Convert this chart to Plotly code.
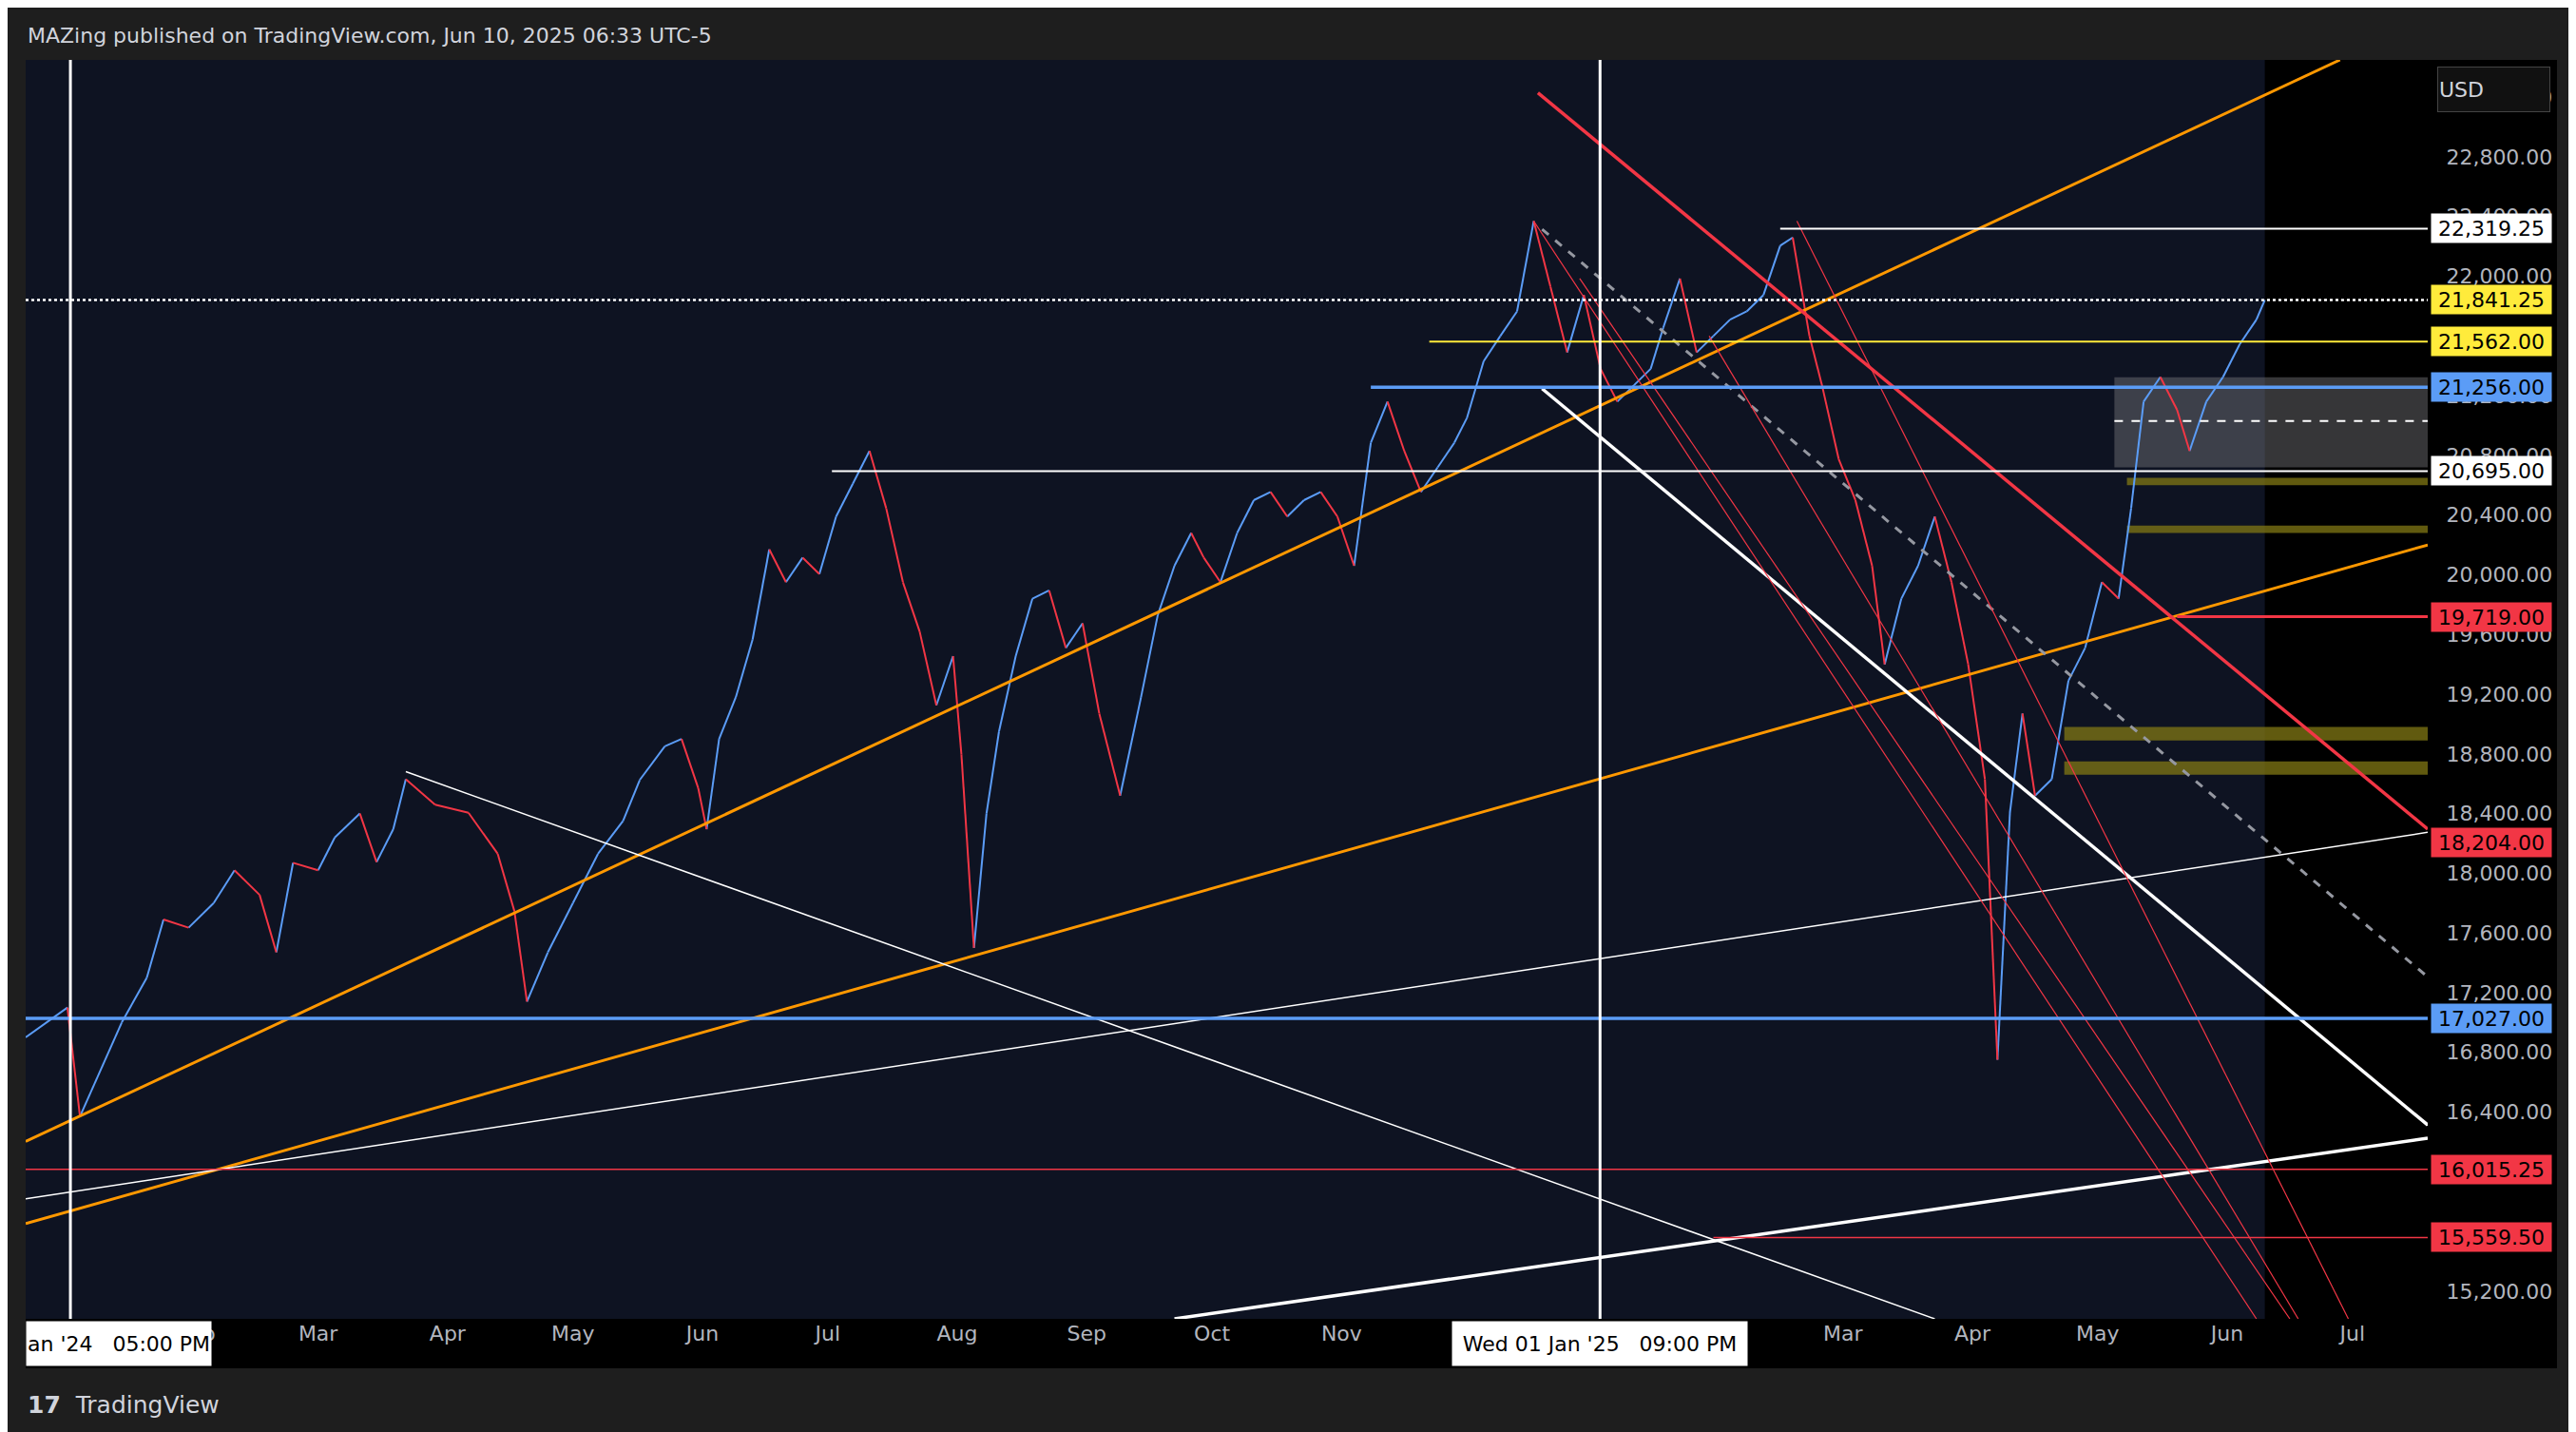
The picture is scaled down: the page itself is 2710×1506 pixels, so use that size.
import plotly.graph_objects as go

dates = ["2023-12-22","2024-01-01","2024-01-04","2024-01-14","2024-01-20","2024-01-24","2024-01-30","2024-02-05","2024-02-10","2024-02-16","2024-02-20","2024-02-24","2024-03-01","2024-03-05","2024-03-11","2024-03-15","2024-03-19","2024-03-22","2024-03-29","2024-04-06","2024-04-13","2024-04-17","2024-04-20","2024-04-25","2024-05-01","2024-05-07","2024-05-13","2024-05-17","2024-05-23","2024-05-27","2024-05-31","2024-06-02","2024-06-05","2024-06-09","2024-06-13","2024-06-17","2024-06-21","2024-06-25","2024-06-29","2024-07-03","2024-07-07","2024-07-11","2024-07-15","2024-07-19","2024-07-23","2024-07-27","2024-07-31","2024-08-02","2024-08-05","2024-08-08","2024-08-11","2024-08-15","2024-08-19","2024-08-23","2024-08-27","2024-08-31","2024-09-04","2024-09-09","2024-09-14","2024-09-18","2024-09-22","2024-09-26","2024-09-29","2024-10-03","2024-10-07","2024-10-11","2024-10-15","2024-10-19","2024-10-23","2024-10-27","2024-10-31","2024-11-04","2024-11-08","2024-11-12","2024-11-16","2024-11-20","2024-11-24","2024-11-28","2024-12-01","2024-12-05","2024-12-09","2024-12-13","2024-12-17","2024-12-21","2024-12-25","2024-12-29","2025-01-02","2025-01-06","2025-01-10","2025-01-14","2025-01-17","2025-01-21","2025-01-25","2025-01-29","2025-02-02","2025-02-06","2025-02-10","2025-02-14","2025-02-17","2025-02-21","2025-02-24","2025-02-28","2025-03-04","2025-03-08","2025-03-11","2025-03-15","2025-03-19","2025-03-23","2025-03-27","2025-03-31","2025-04-04","2025-04-07","2025-04-10","2025-04-13","2025-04-16","2025-04-20","2025-04-24","2025-04-28","2025-05-02","2025-05-06","2025-05-09","2025-05-12","2025-05-16","2025-05-20","2025-05-23","2025-05-27","2025-05-31","2025-06-04","2025-06-08","2025-06-10"]
prices = [16900,17100,16370,17000,17300,17690,17635,17800,18020,17855,17470,18070,18020,18240,18400,18075,18295,18630,18460,18405,18130,17745,17140,17470,17800,18130,18350,18625,18850,18900,18570,18295,18900,19180,19565,20170,19950,20115,20005,20390,20610,20830,20445,19950,19620,19125,19455,18795,17500,18400,18950,19455,19840,19895,19510,19675,19070,18520,19180,19730,20060,20280,20115,19950,20280,20500,20555,20390,20500,20555,20390,20060,20885,21160,20830,20555,20720,20885,21050,21430,21600,21765,22370,21930,21490,21875,21380,21160,21270,21380,21655,21985,21490,21600,21710,21765,21875,22205,22260,21600,21270,20775,20500,20060,19400,19840,20060,20390,19950,19400,18630,16750,18410,19070,18520,18630,19290,19510,19950,19840,20445,21160,21325,21105,20830,21160,21325,21545,21710,21841.25]

# trend lines: (date0, price0, date1, price1, color, width, dash)
trendlines = [
    ("2023-12-22",16203,"2025-06-28",23450,"#ff9800",3,"solid"),
    ("2023-12-22",15652,"2025-07-19",20200,"#ff9800",3,"solid"),
    ("2023-12-22",15818,"2025-07-19",18274,"#ffffff",1.5,"solid"),
    ("2024-09-22",15014,"2025-07-19",16225,"#ffffff",3.5,"solid"),
    ("2024-03-22",18681,"2025-03-23",15014,"#ffffff",1.5,"solid"),
    ("2024-12-19",21247,"2025-07-19",16313,"#ffffff",3.5,"solid"),
    ("2024-12-19",22315,"2025-07-19",17305,"#9598a1",3,"dash"),
    ("2024-12-18",23230,"2025-07-19",18296,"#f23645",3.5,"solid"),
    ("2024-12-17",22370,"2025-06-08",15014,"#f23645",1.2,"solid"),
    ("2024-12-28",21985,"2025-06-16",15014,"#f23645",1.2,"solid"),
    ("2025-01-28",21600,"2025-06-18",15014,"#f23645",1.2,"solid"),
    ("2025-02-18",22370,"2025-06-30",15014,"#f23645",1.2,"solid"),
]
# horizontal levels: (start date, price, color, width, dash)
levels = [
    ("2025-02-14",22319.25,"#ffffff",2,"solid"),
    ("2023-12-22",21841.25,"#ffffff",2.5,"dot"),
    ("2024-11-22",21562.00,"#ffeb3b",2,"solid"),
    ("2024-11-08",21256.00,"#5b9cf6",3.5,"solid"),
    ("2024-07-02",20695.00,"#ffffff",2,"solid"),
    ("2025-05-20",19719.00,"#f23645",3,"solid"),
    ("2023-12-22",17027.00,"#5b9cf6",3.5,"solid"),
    ("2023-12-22",16015.25,"#f23645",1.5,"solid"),
    ("2025-01-29",15559.50,"#f23645",1.5,"solid"),
]
# zones: (start date, low, high, color)
zones = [
    ("2025-05-05",20719,21324,"rgba(120,120,125,0.45)"),
    ("2025-05-08",20600,20650,"rgba(130,120,20,0.75)"),
    ("2025-05-08",20280,20330,"rgba(130,120,20,0.75)"),
    ("2025-04-23",18890,18980,"rgba(130,120,20,0.75)"),
    ("2025-04-23",18660,18750,"rgba(130,120,20,0.75)"),
]
vlines = ["2024-01-01 17:00","2025-01-01 21:00"]
labels = [(22319.25,"22,319.25","#ffffff"),(21841.25,"21,841.25","#ffeb3b"),(21562.00,"21,562.00","#ffeb3b"),
          (21256.00,"21,256.00","#5b9cf6"),(20695.00,"20,695.00","#ffffff"),(19719.00,"19,719.00","#f23645"),
          (18204.00,"18,204.00","#f23645"),(17027.00,"17,027.00","#5b9cf6"),(16015.25,"16,015.25","#f23645"),
          (15559.50,"15,559.50","#f23645")]
month_ticks = ["2024-02-01","2024-03-01","2024-04-01","2024-05-01","2024-06-01","2024-07-01","2024-08-01","2024-09-01","2024-10-01","2024-11-01","2025-02-01","2025-03-01","2025-04-01","2025-05-01","2025-06-01","2025-07-01"]
month_text = ["Feb","Mar","Apr","May","Jun","Jul","Aug","Sep","Oct","Nov","Feb","Mar","Apr","May","Jun","Jul"]

XEND = "2025-07-19"
YMIN, YMAX = 15014, 23450

upx, upy, dnx, dny = [], [], [], []
for i in range(len(prices) - 1):
    tx, ty = (upx, upy) if prices[i+1] >= prices[i] else (dnx, dny)
    tx += [dates[i], dates[i+1], None]
    ty += [prices[i], prices[i+1], None]

fig = go.Figure()
fig.add_trace(go.Scatter(x=upx, y=upy, mode="lines", line=dict(color="#5b9cf6", width=2), hoverinfo="skip"))
fig.add_trace(go.Scatter(x=dnx, y=dny, mode="lines", line=dict(color="#f23645", width=2), hoverinfo="skip"))

shapes = []
shapes.append(dict(type="rect", xref="paper", yref="paper", x0=0, x1=1.0538, y0=-0.0393, y1=1, fillcolor="#000000", line_width=0, layer="below"))
shapes.append(dict(type="rect", xref="x", yref="paper", x0="2023-12-22", x1="2025-06-10", y0=0, y1=1, fillcolor="#0e1322", line_width=0, layer="below"))
for d0, lo, hi, c in zones:
    shapes.append(dict(type="rect", xref="x", yref="y", x0=d0, x1=XEND, y0=lo, y1=hi, fillcolor=c, line_width=0, layer="below"))
shapes.append(dict(type="line", xref="x", yref="y", x0="2025-05-05", x1=XEND, y0=21030, y1=21030, line=dict(color="#ffffff", width=2, dash="dash")))
for d0, p0, d1, p1, c, w, ds in trendlines:
    shapes.append(dict(type="line", xref="x", yref="y", x0=d0, y0=p0, x1=d1, y1=p1, line=dict(color=c, width=w, dash=ds)))
for d0, p, c, w, ds in levels:
    shapes.append(dict(type="line", xref="x", yref="y", x0=d0, x1=XEND, y0=p, y1=p, line=dict(color=c, width=w, dash=ds)))
for v in vlines:
    shapes.append(dict(type="line", xref="x", yref="paper", x0=v, x1=v, y0=0, y1=1, line=dict(color="#ffffff", width=3)))

ann = []
for p, t, c in labels:
    ann.append(dict(xref="paper", yref="y", x=1.0012, y=p, xanchor="left", yanchor="middle", text=t, showarrow=False,
                    bgcolor=c, width=124, height=28, align="center", font=dict(color="#000000", size=22, family="DejaVu Sans")))
ann.append(dict(xref="paper", yref="paper", x=1.004, y=0.995, xanchor="left", yanchor="top", text="USD", showarrow=False,
                bgcolor="#111111", bordercolor="#444444", borderwidth=1, width=115, height=44, align="left",
                font=dict(color="#d1d4dc", size=22, family="DejaVu Sans")))
ann.append(dict(xref="paper", yref="paper", x=0, y=-0.0196, xanchor="left", yanchor="middle", text="an '24   05:00 PM",
                showarrow=False, bgcolor="#ffffff", height=44, font=dict(color="#000000", size=22, family="DejaVu Sans")))
ann.append(dict(xref="x", yref="paper", x="2025-01-01 21:00", y=-0.0196, xanchor="center", yanchor="middle", text="Wed 01 Jan '25   09:00 PM",
                showarrow=False, bgcolor="#ffffff", height=44, width=308, font=dict(color="#000000", size=22, family="DejaVu Sans")))
ann.append(dict(xref="paper", yref="paper", x=0, y=1.0196, xanchor="left", yanchor="middle",
                text="MAZing published on TradingView.com, Jun 10, 2025 06:33 UTC-5", showarrow=False,
                font=dict(color="#d1d4dc", size=22, family="DejaVu Sans")))
ann.append(dict(xref="paper", yref="paper", x=0, y=-0.068, xanchor="left", yanchor="middle",
                text="<b>17</b>  TradingView", showarrow=False,
                font=dict(color="#d1d4dc", size=25, family="DejaVu Sans")))

fig.update_layout(
    width=2710, height=1506, margin=dict(l=19, r=164, t=55, b=127),
    paper_bgcolor="#1e1e1e", plot_bgcolor="#000000", showlegend=False,
    shapes=shapes, annotations=ann,
    xaxis=dict(range=["2023-12-22", XEND], tickvals=month_ticks, ticktext=month_text, showgrid=False, zeroline=False,
               tickfont=dict(color="#b2b5be", size=22, family="DejaVu Sans"), ticks="", showline=False),
    yaxis=dict(range=[YMIN, YMAX], side="right", dtick=400, tick0=15200, tickformat=",.2f", showgrid=False, zeroline=False,
               tickfont=dict(color="#b2b5be", size=22, family="DejaVu Sans"), ticks="outside", ticklen=14, tickcolor="rgba(0,0,0,0)"),
)
fig.write_html("out.html")
